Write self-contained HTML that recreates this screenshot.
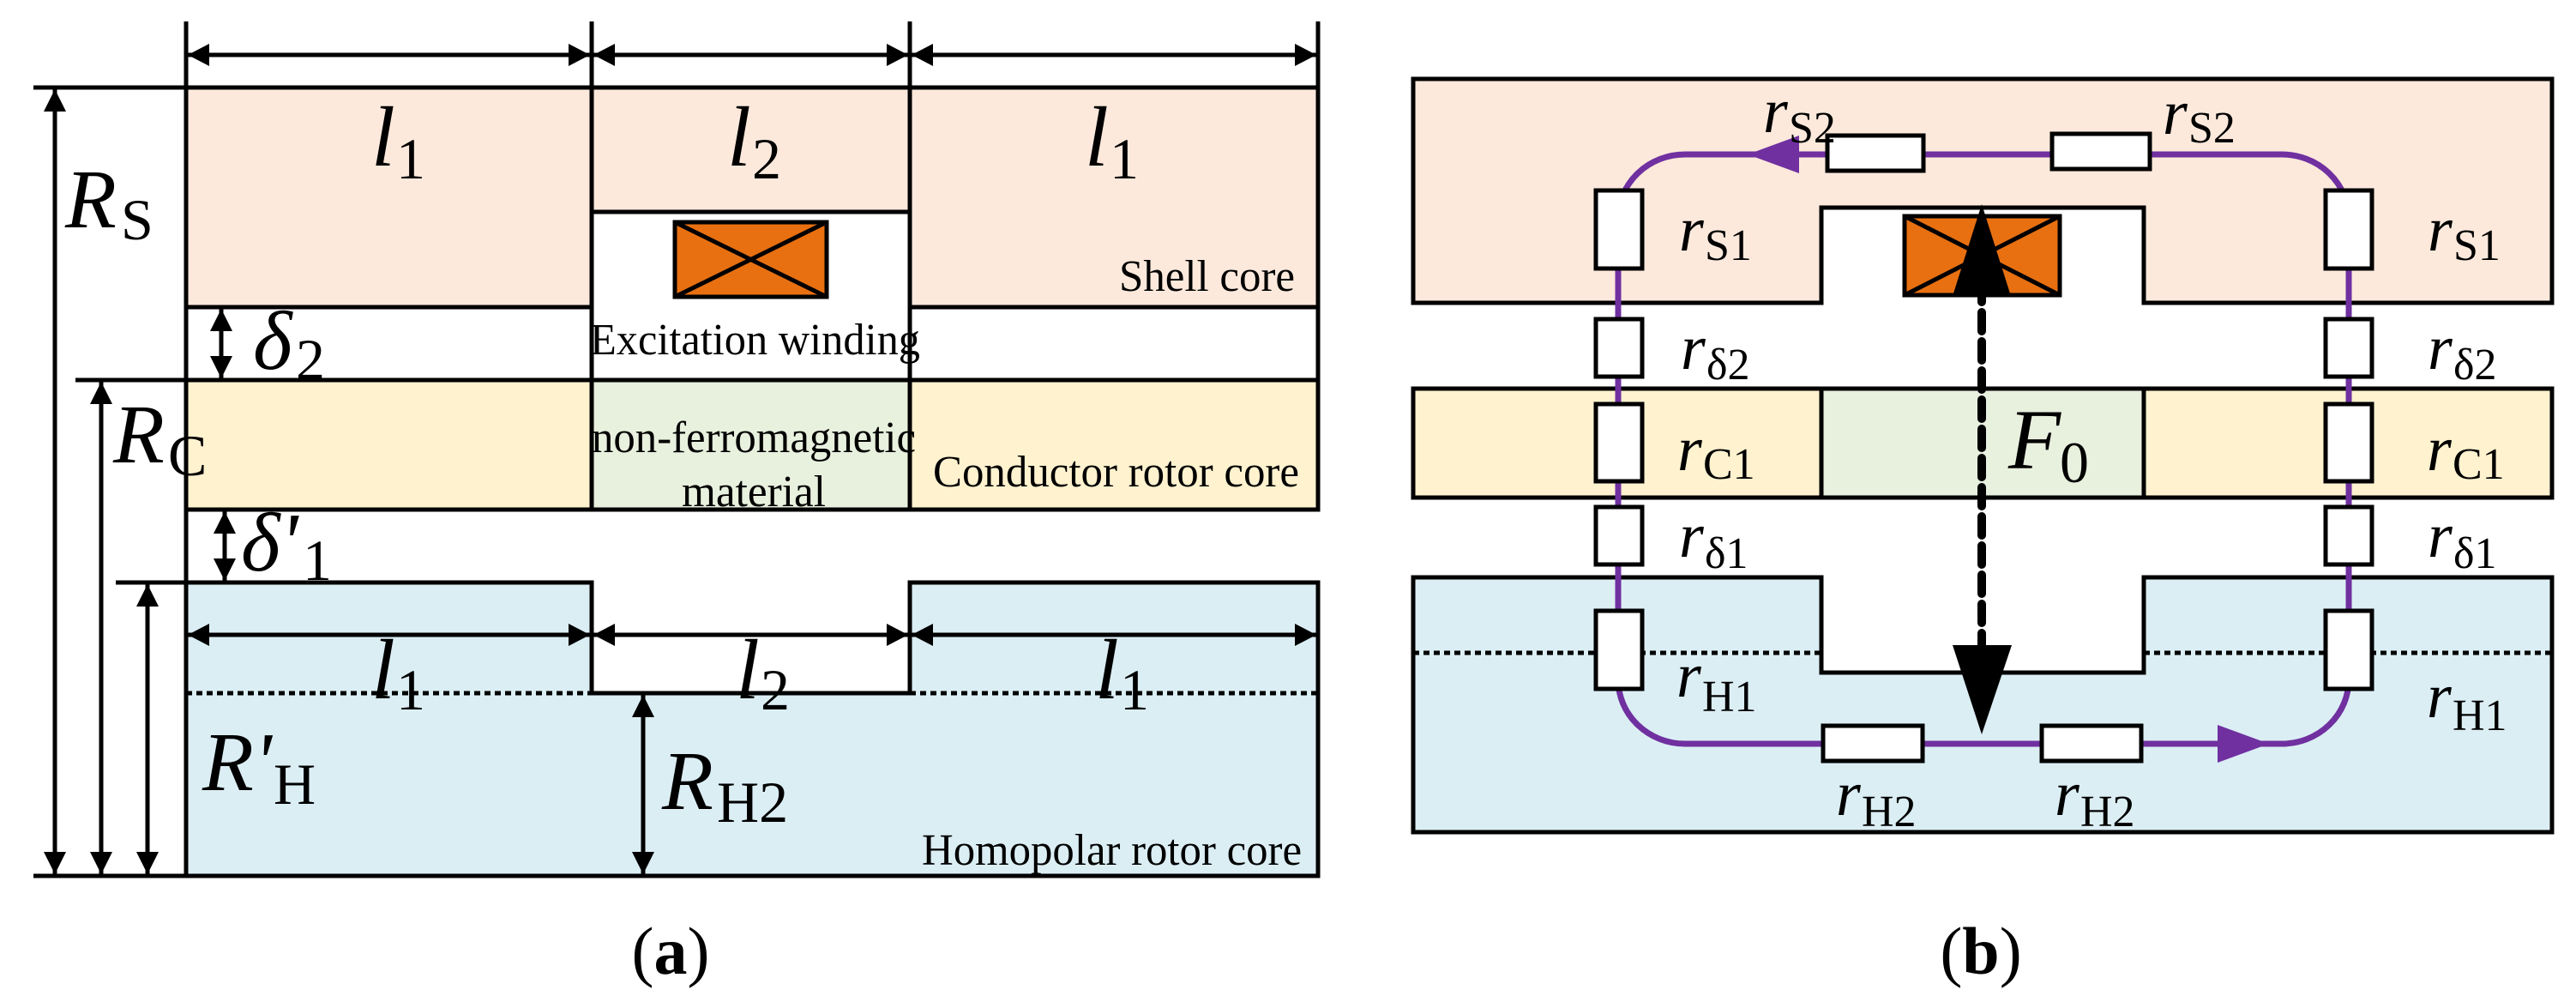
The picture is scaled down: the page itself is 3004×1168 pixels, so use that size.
<!DOCTYPE html>
<html><head><meta charset="utf-8"><style>
html,body{margin:0;padding:0;background:#fff}
svg{display:block}
svg text{font-family:"Liberation Serif","Times New Roman",serif !important;fill:#000}
.it{font-style:italic}
</style></head><body>
<svg width="3004" height="1168" viewBox="0 0 3004 1168" xmlns="http://www.w3.org/2000/svg" font-family="Liberation Serif, Times New Roman, serif">
<!-- ============ PANEL A ============ -->
<g stroke="#000" stroke-width="5" fill="none">
<path d="M217,102 H1537 V358 H1061 V247 H690 V358 H217 Z" fill="#FCE9DC"/>
<rect x="217" y="443" width="473" height="151" fill="#FFF2CF"/>
<rect x="690" y="443" width="371" height="151" fill="#E8F0DE"/>
<rect x="1061" y="443" width="476" height="151" fill="#FFF2CF"/>
<path d="M217,679 H690 V808 H1061 V679 H1537 V1021 H217 Z" fill="#DBEEF4"/>
<line x1="217" y1="25" x2="217" y2="1021"/>
<line x1="1537" y1="25" x2="1537" y2="443"/>
<line x1="690" y1="25" x2="690" y2="443"/>
<line x1="1061" y1="25" x2="1061" y2="443"/>
<line x1="39" y1="102" x2="217" y2="102"/>
<line x1="88" y1="443" x2="217" y2="443"/>
<line x1="135" y1="679" x2="217" y2="679"/>
<line x1="39" y1="1021" x2="217" y2="1021"/>
<line x1="217" y1="808" x2="690" y2="808" stroke-dasharray="7 5"/>
<line x1="1061" y1="808" x2="1537" y2="808" stroke-dasharray="7 5"/>
<rect x="787" y="259" width="177" height="87" fill="#E87011"/>
<line x1="787" y1="259" x2="964" y2="346"/>
<line x1="964" y1="259" x2="787" y2="346"/>
<line x1="217" y1="64" x2="1537" y2="64"/>
<line x1="217" y1="740" x2="1537" y2="740"/>
<line x1="64" y1="102" x2="64" y2="1021"/>
<line x1="118" y1="443" x2="118" y2="1021"/>
<line x1="172" y1="679" x2="172" y2="1021"/>
<line x1="258" y1="358" x2="258" y2="443"/>
<line x1="262" y1="594" x2="262" y2="679"/>
<line x1="750" y1="808" x2="750" y2="1021"/>
</g>
<g fill="#000">
<polygon points="219,64 244,51 244,77"/><polygon points="688,64 663,51 663,77"/>
<polygon points="692,64 717,51 717,77"/><polygon points="1059,64 1034,51 1034,77"/>
<polygon points="1063,64 1088,51 1088,77"/><polygon points="1535,64 1510,51 1510,77"/>
<polygon points="219,740 244,727 244,753"/><polygon points="688,740 663,727 663,753"/>
<polygon points="692,740 717,727 717,753"/><polygon points="1059,740 1034,727 1034,753"/>
<polygon points="1063,740 1088,727 1088,753"/><polygon points="1535,740 1510,727 1510,753"/>
<polygon points="64,104 51,130 77,130"/><polygon points="64,1019 51,993 77,993"/>
<polygon points="118,445 105,471 131,471"/><polygon points="118,1019 105,993 131,993"/>
<polygon points="172,681 159,707 185,707"/><polygon points="172,1019 159,993 185,993"/>
<polygon points="258,360 245,386 271,386"/><polygon points="258,441 245,415 271,415"/>
<polygon points="262,596 249,622 275,622"/><polygon points="262,677 249,651 275,651"/>
<polygon points="750,810 737,836 763,836"/><polygon points="750,1019 737,993 763,993"/>
</g>
<text x="433" y="193" font-size="100" class="it">l</text><text x="462" y="208" font-size="68">1</text>
<text x="848" y="193" font-size="100" class="it">l</text><text x="877" y="208" font-size="68">2</text>
<text x="1265" y="193" font-size="100" class="it">l</text><text x="1294" y="208" font-size="68">1</text>
<text x="433" y="814" font-size="100" class="it">l</text><text x="462" y="827" font-size="68">1</text>
<text x="858" y="814" font-size="100" class="it">l</text><text x="887" y="827" font-size="68">2</text>
<text x="1277" y="814" font-size="100" class="it">l</text><text x="1306" y="827" font-size="68">1</text>
<text x="76" y="265" font-size="98" class="it">R</text><text x="141" y="279" font-size="68">S</text>
<text x="132" y="539" font-size="98" class="it">R</text><text x="196" y="554" font-size="68">C</text>
<text x="295" y="430" font-size="98" class="it">δ</text><text x="345" y="442" font-size="68">2</text>
<text x="281" y="665" font-size="98" class="it">δ'</text><text x="353" y="676" font-size="68">1</text>
<text x="236" y="921" font-size="98" class="it">R'</text><text x="319" y="937" font-size="68">H</text>
<text x="772" y="943" font-size="98" class="it">R</text><text x="836" y="958" font-size="68">H2</text>
<text x="1305" y="339" font-size="52" textLength="205" lengthAdjust="spacingAndGlyphs">Shell core</text>
<text x="688" y="413" font-size="52" textLength="385" lengthAdjust="spacingAndGlyphs">Excitation winding</text>
<text x="690" y="527" font-size="52" textLength="378" lengthAdjust="spacingAndGlyphs">non-ferromagnetic</text>
<text x="795" y="590" font-size="52" textLength="168" lengthAdjust="spacingAndGlyphs">material</text>
<text x="1088" y="567" font-size="52" textLength="427" lengthAdjust="spacingAndGlyphs">Conductor rotor core</text>
<text x="1075" y="1008" font-size="52" textLength="443" lengthAdjust="spacingAndGlyphs">Homopolar rotor core</text>
<text x="782" y="1135" font-size="78" text-anchor="middle">(<tspan font-weight="bold">a</tspan>)</text>

<!-- ============ PANEL B ============ -->
<g stroke="#000" stroke-width="5">
<path d="M1648,92 H2976 V353 H2500 V242 H2124 V353 H1648 Z" fill="#FCE9DC"/>
<rect x="1648" y="453" width="476" height="127" fill="#FFF2CF"/>
<rect x="2124" y="453" width="376" height="127" fill="#E8F0DE"/>
<rect x="2500" y="453" width="476" height="127" fill="#FFF2CF"/>
<path d="M1648,673 H2124 V784 H2500 V673 H2976 V970 H1648 Z" fill="#DBEEF4"/>
<rect x="2221" y="252" width="181" height="92" fill="#E87011"/>
<line x1="2221" y1="252" x2="2402" y2="344"/>
<line x1="2402" y1="252" x2="2221" y2="344"/>
</g>
<g stroke="#000" stroke-width="5" stroke-dasharray="7 5" fill="none">
<line x1="1648" y1="761" x2="2124" y2="761"/>
<line x1="2500" y1="761" x2="2976" y2="761"/>
</g>
<path d="M1887,310 V255 A78,75 0 0 1 1965,180 H2661 A78,75 0 0 1 2739,255 V792 A78,75 0 0 1 2661,867 H1965 A78,75 0 0 1 1887,792 Z" fill="none" stroke="#7030A0" stroke-width="7"/>
<polygon points="2038,180 2098,158 2098,202" fill="#7030A0"/>
<polygon points="2646,867 2586,845 2586,889" fill="#7030A0"/>
<g fill="#fff" stroke="#000" stroke-width="5">
<rect x="1861" y="222" width="54" height="91"/>
<rect x="1861" y="372" width="54" height="67"/>
<rect x="1861" y="471" width="54" height="90"/>
<rect x="1861" y="591" width="54" height="67"/>
<rect x="1861" y="712" width="54" height="91"/>
<rect x="2712" y="222" width="54" height="91"/>
<rect x="2712" y="372" width="54" height="67"/>
<rect x="2712" y="471" width="54" height="90"/>
<rect x="2712" y="591" width="54" height="67"/>
<rect x="2712" y="712" width="54" height="91"/>
<rect x="2131" y="158" width="112" height="41"/>
<rect x="2393" y="156" width="114" height="41"/>
<rect x="2126" y="846" width="116" height="41"/>
<rect x="2381" y="846" width="116" height="41"/>
</g>
<line x1="2311" y1="330" x2="2311" y2="752" stroke="#000" stroke-width="10" stroke-dasharray="22 12" stroke-linecap="round"/>
<polygon points="2311,238 2278,342 2344,342" fill="#000"/>
<polygon points="2311,856 2277,752 2346,752" fill="#000"/>
<text x="2056" y="154" font-size="74" class="it">r</text><text x="2086" y="166" font-size="52">S2</text>
<text x="2522" y="156" font-size="74" class="it">r</text><text x="2552" y="166" font-size="52">S2</text>
<text x="1958" y="292" font-size="74" class="it">r</text><text x="1988" y="303" font-size="52">S1</text>
<text x="2831" y="292" font-size="74" class="it">r</text><text x="2861" y="303" font-size="52">S1</text>
<text x="1960" y="430" font-size="74" class="it">r</text><text x="1990" y="442" font-size="52">δ2</text>
<text x="2831" y="430" font-size="74" class="it">r</text><text x="2861" y="442" font-size="52">δ2</text>
<text x="1956" y="548" font-size="74" class="it">r</text><text x="1986" y="558" font-size="52">C1</text>
<text x="2830" y="548" font-size="74" class="it">r</text><text x="2860" y="558" font-size="52">C1</text>
<text x="1958" y="649" font-size="74" class="it">r</text><text x="1988" y="662" font-size="52">δ1</text>
<text x="2831" y="649" font-size="74" class="it">r</text><text x="2861" y="662" font-size="52">δ1</text>
<text x="1955" y="812" font-size="74" class="it">r</text><text x="1985" y="829" font-size="52">H1</text>
<text x="2830" y="836" font-size="74" class="it">r</text><text x="2860" y="851" font-size="52">H1</text>
<text x="2141" y="950" font-size="74" class="it">r</text><text x="2171" y="963" font-size="52">H2</text>
<text x="2396" y="950" font-size="74" class="it">r</text><text x="2426" y="963" font-size="52">H2</text>
<text x="2342" y="546" font-size="100" class="it">F</text><text x="2402" y="562" font-size="68">0</text>
<text x="2310" y="1135" font-size="78" text-anchor="middle">(<tspan font-weight="bold">b</tspan>)</text>
</svg>
</body></html>
